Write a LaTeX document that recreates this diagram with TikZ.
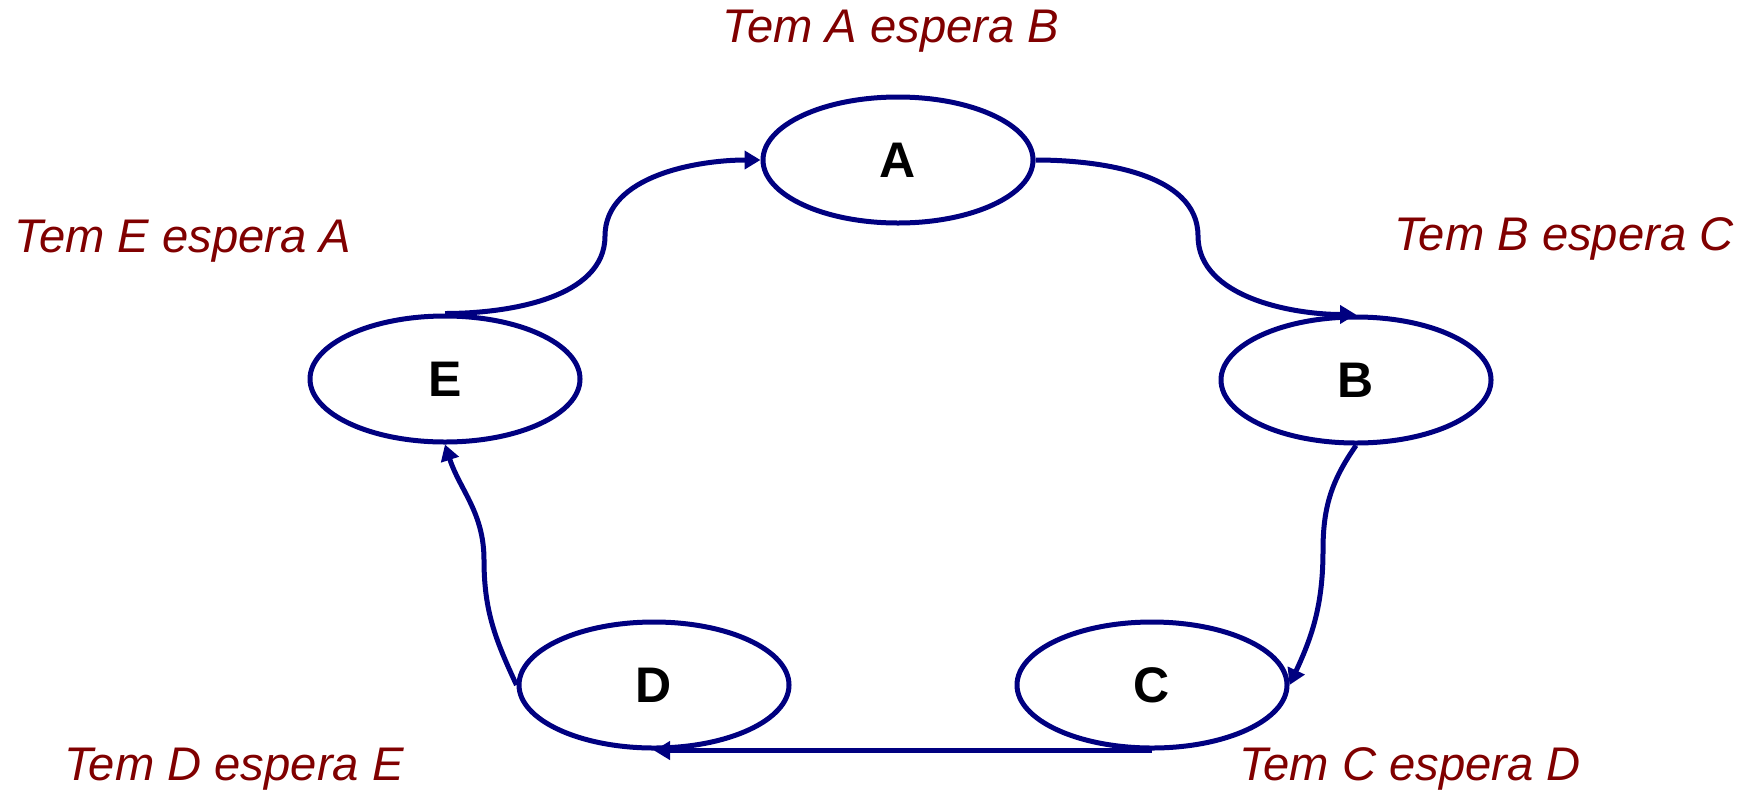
\documentclass[tikz,border=0pt]{standalone}
\usepackage{fontspec}
\setmainfont{Liberation Sans}
\usetikzlibrary{shapes.geometric,arrows.meta}
\definecolor{navy}{RGB}{0,0,128}
\definecolor{darkred}{RGB}{128,0,0}
\begin{document}
\begin{tikzpicture}[x=0.5pt,y=-0.5pt,
  proc/.style={ellipse,draw=navy,line width=2.5pt,minimum width=135pt,minimum height=63pt,inner sep=0pt,font=\fontsize{25}{30}\selectfont\bfseries,text=black},
  lbl/.style={font=\fontsize{23.6}{28}\selectfont\itshape,text=darkred,inner sep=0pt},
  conn/.style={draw=navy,line width=2.5pt,-{Triangle[length=8pt,width=9pt]}}]
\useasboundingbox (0,0) rectangle (1748,798);
\node[proc] (A) at (898,160) {A};
\node[proc] (B) at (1356,380) {B};
\node[proc] (C) at (1152,685) {C};
\node[proc] (D) at (654,685) {D};
\node[proc] (E) at (445,379) {E};
\node[lbl] (lA) at (891,31) {Tem A espera B};
\node[lbl] (lB) at (1564,239) {Tem B espera C};
\node[lbl] (lC) at (1410,769) {Tem C espera D};
\node[lbl] (lD) at (234,769) {Tem D espera E};
\node[lbl] (lE) at (183,241) {Tem E espera A};
\coordinate (m1) at (605,236);
\coordinate (m2) at (1198,236);
\coordinate (m3) at (1323,550);
\coordinate (m4) at (484,560);
\draw[conn] (E.north) to[out=0,in=-90,looseness=0.9] (m1) to[out=90,in=180,looseness=0.9] (A.west);
\draw[conn] (A.east) to[out=0,in=90,looseness=0.9] (m2) to[out=-90,in=180,looseness=0.9] (B.north);
\draw[conn] (B.south) to[out=-125,in=90] (m3) to[out=-90,in=65] (C.east);
\draw[conn] (C.south) -- (D.south);
\draw[conn] (D.west) to[out=115,in=-90] (m4) to[out=90,in=-72] (E.south);
\end{tikzpicture}
\end{document}
